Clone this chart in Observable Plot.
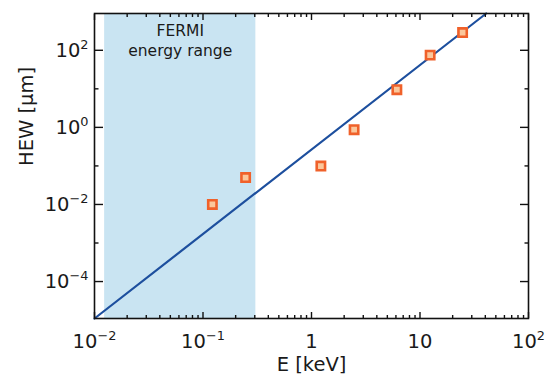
<!DOCTYPE html>
<html><head><meta charset="utf-8">
<script src="https://cdn.jsdelivr.net/npm/d3@7"></script>
<script src="https://cdn.jsdelivr.net/npm/@observablehq/plot@0.6"></script>
<style>body{margin:0;background:#fff} svg{display:block}</style>
</head><body><div id="chart"></div>
<script>
// Measured points (E in keV, HEW in micron)
const energyKeV = [0.122, 0.247, 1.22, 2.47, 6.12, 12.4, 24.7];
const hewMicron = [0.01, 0.05, 0.099, 0.87, 9.5, 75, 288];
// Power-law line end points
const fitE = [0.01, 40.7];
const fitHEW = [1.1e-5, 900];
// FERMI energy range (keV)
const fermiRange = [0.0124, 0.307];
const fermiLabel = ["FERMI", "energy range"];
// Ticks
const xMajorTicks = [0.01, 0.1, 1, 10, 100];
const xTickLabels = ["10^-2", "10^-1", "1", "10", "10^2"];
const yMajorTicks = [1e2, 1, 1e-2, 1e-4];
const yTickLabels = ["10^2", "10^0", "10^-2", "10^-4"];
const yMinorTicks = [1e1, 1e-1, 1e-3];
const xLabel = "E [keV]";
const yLabel = "HEW [μm]";

const xDomain = [0.01, 100];
const yDomain = [1.1e-5, 900];
const xMinorTicks = d3.scaleLog().domain(xDomain).ticks().filter(t => !xMajorTicks.some(m => Math.abs(m - t) / m < 1e-9));

const points = energyKeV.map((e, i) => ({e, h: hewMicron[i]}));
const fit = fitE.map((e, i) => ({e, h: fitHEW[i]}));
const xFmt = new Map(xMajorTicks.map((t, i) => [t, xTickLabels[i]]));
const yFmt = new Map(yMajorTicks.map((t, i) => [t, yTickLabels[i]]));

const tickStyle = {stroke: "#111", strokeWidth: 1.4, tickFormat: () => "", label: null};

const chart = Plot.plot({
  width: 551,
  height: 375,
  marginLeft: 94,
  marginRight: 23,
  marginTop: 13,
  marginBottom: 57,
  style: {fontFamily: "DejaVu Sans", fontSize: "19.5px", color: "#1a1a1a", background: "white", overflow: "visible"},
  x: {type: "log", domain: xDomain, axis: null},
  y: {type: "log", domain: yDomain, axis: null},
  marks: [
    Plot.rect([fermiRange], {x1: d => d[0], x2: d => d[1], fill: "#c9e4f2"}),
    Plot.text([fermiLabel[0]], {
      x: Math.sqrt(fermiRange[0] * fermiRange[1]), frameAnchor: "top", dy: 11,
      lineAnchor: "top", fontSize: 15.5, fill: "#1a1a1a"
    }),
    Plot.text([fermiLabel[1]], {
      x: Math.sqrt(fermiRange[0] * fermiRange[1]), frameAnchor: "top", dy: 31,
      lineAnchor: "top", fontSize: 15.5, fill: "#1a1a1a", style: "letter-spacing:0.5px"
    }),
    Plot.line(fit, {x: "e", y: "h", stroke: "#1d4f9e", strokeWidth: 2.2}),
    Plot.dot(points, {x: "e", y: "h", symbol: "square", r: 4.7, fill: "#fbc79b", stroke: "#f0612a", strokeWidth: 2.6}),
    // ticks (inward)
    Plot.axisX({anchor: "bottom", ticks: xMajorTicks, tickSize: -6, ...tickStyle}),
    Plot.axisX({anchor: "top", ticks: xMajorTicks, tickSize: -6, ...tickStyle}),
    Plot.axisX({anchor: "bottom", ticks: xMinorTicks, tickSize: -3, ...tickStyle}),
    Plot.axisX({anchor: "top", ticks: xMinorTicks, tickSize: -3, ...tickStyle}),
    Plot.axisY({anchor: "left", ticks: yMajorTicks, tickSize: -9, ...tickStyle}),
    Plot.axisY({anchor: "right", ticks: yMajorTicks, tickSize: -9, ...tickStyle}),
    Plot.axisY({anchor: "left", ticks: yMinorTicks, tickSize: -4.5, ...tickStyle}),
    Plot.axisY({anchor: "right", ticks: yMinorTicks, tickSize: -4.5, ...tickStyle}),
    // tick labels
    Plot.axisX({anchor: "bottom", ticks: xMajorTicks, tickSize: 0, tickPadding: 16, tickFormat: d => xFmt.get(d), label: null, fill: "#1a1a1a"}),
    Plot.axisY({anchor: "left", ticks: yMajorTicks, tickSize: 0, tickPadding: 6, tickFormat: d => yFmt.get(d), label: null, fill: "#1a1a1a"}),
    // axis titles
    Plot.text([xLabel], {frameAnchor: "bottom", dy: 46.5, lineAnchor: "middle", fill: "#1a1a1a"}),
    Plot.text([yLabel], {frameAnchor: "left", dx: -67.5, rotate: -90, lineAnchor: "middle", fill: "#1a1a1a"}),
    Plot.frame({stroke: "#111", strokeWidth: 1.6})
  ]
});

// Render exponents as superscripts
chart.querySelectorAll('g[aria-label$="tick label"] text').forEach(t => {
  const s = t.textContent;
  if (s && s.includes("^")) {
    const [base, exp] = s.split("^");
    t.textContent = "";
    t.appendChild(document.createTextNode(base));
    const sup = document.createElementNS("http://www.w3.org/2000/svg", "tspan");
    sup.setAttribute("font-size", "0.66em");
    sup.setAttribute("dy", "-8");
    sup.textContent = exp.replace("-", "\u2212");
    t.appendChild(sup);
  }
});
document.getElementById("chart").appendChild(chart);
</script>
</body></html>
